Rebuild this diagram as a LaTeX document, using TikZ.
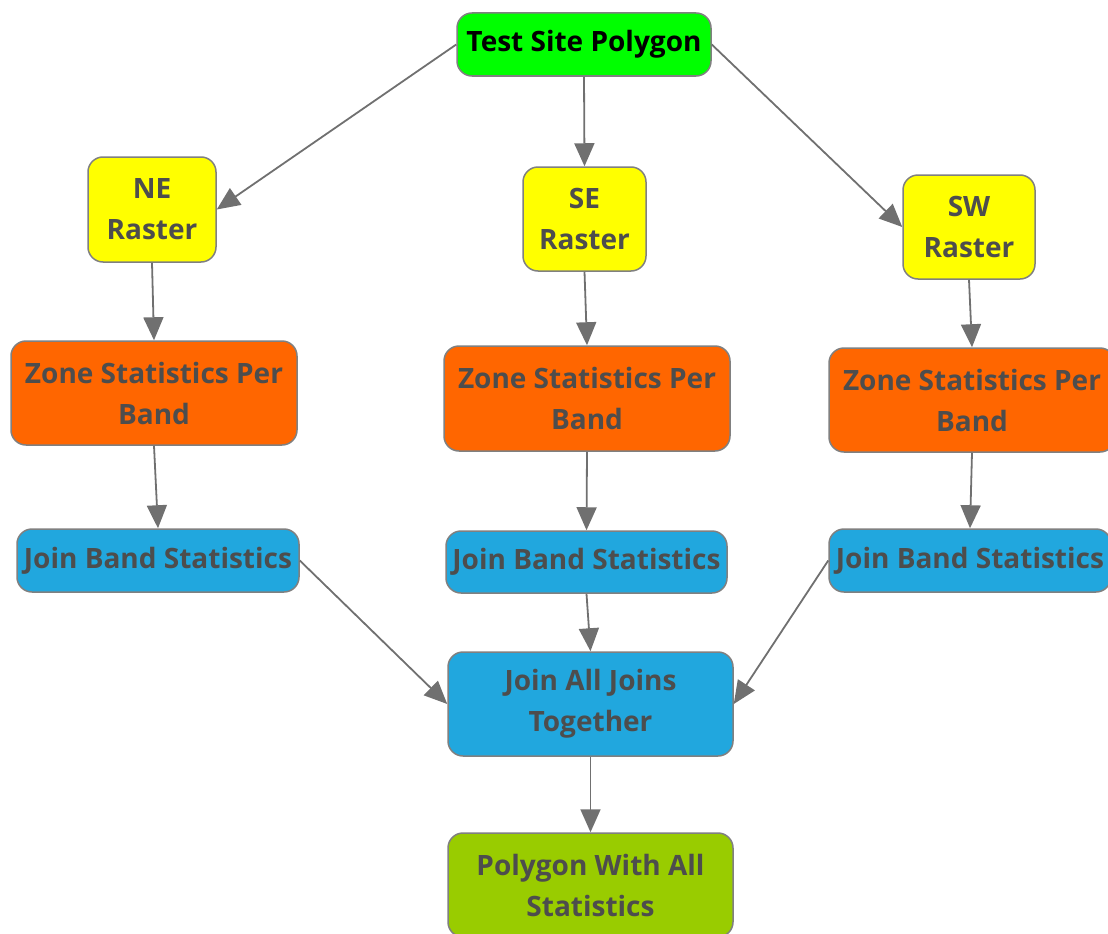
\documentclass[tikz,border=0pt]{standalone}
\usepackage{fontspec}
\setmainfont{Open Sans}
\usetikzlibrary{arrows.meta}
\definecolor{boxline}{HTML}{808080}
\definecolor{arrcol}{HTML}{707070}
\definecolor{txt}{HTML}{4D4D4D}
\definecolor{cgreen}{HTML}{00FF00}
\definecolor{cyellow}{HTML}{FFFF00}
\definecolor{corange}{HTML}{FF6600}
\definecolor{cblue}{HTML}{21A7DE}
\definecolor{clime}{HTML}{99CC00}
\begin{document}
\begin{tikzpicture}[x=1pt,y=-1pt,
  box/.style={draw=boxline, line width=1.5pt, rounded corners=15pt, align=center,
    font=\fontsize{28}{41}\selectfont\bfseries, text=txt, inner sep=0pt},
  arr/.style={draw=arrcol, line width=1.8pt, -{Triangle[length=23pt,width=20pt]}}]
\useasboundingbox (0,0) rectangle (1108,934);
\clip (0,0) rectangle (1108,934);
% nodes
\node[box, fill=cgreen, text=black, minimum width=254pt, minimum height=63pt] (top) at (584,44.5) {Test Site Polygon};
\node[box, fill=cyellow, minimum width=128pt, minimum height=105pt] (ne) at (152,209.5) {NE\\Raster};
\node[box, fill=cyellow, minimum width=123pt, minimum height=104pt] (se) at (584.5,219) {SE\\Raster};
\node[box, fill=cyellow, minimum width=132pt, minimum height=104pt] (sw) at (969,227) {SW\\Raster};
\node[box, fill=corange, minimum width=286pt, minimum height=104pt] (zne) at (154,393) {Zone Statistics Per\\Band};
\node[box, fill=corange, minimum width=286pt, minimum height=105pt] (zse) at (587,398.5) {Zone Statistics Per\\Band};
\node[box, fill=corange, minimum width=286pt, minimum height=104pt] (zsw) at (972,400) {Zone Statistics Per\\Band};
\node[box, fill=cblue, minimum width=282pt, minimum height=63pt] (jne) at (158,560.5) {Join Band Statistics};
\node[box, fill=cblue, minimum width=281pt, minimum height=62pt] (jse) at (586.5,562) {Join Band Statistics};
\node[box, fill=cblue, minimum width=282pt, minimum height=63pt] (jsw) at (970,560.5) {Join Band Statistics};
\node[box, fill=cblue, minimum width=285pt, minimum height=104pt] (all) at (590.5,704) {Join All Joins\\Together};
\node[box, fill=clime, minimum width=285pt, minimum height=104pt] (poly) at (590.5,885) {Polygon With All\\Statistics};
% connectors
\draw[arr] (top.west) -- (ne.east);
\draw[arr] (top.south) -- (se.north);
\draw[arr] (top.east) -- (sw.west);
\draw[arr] (ne.south) -- (zne.north);
\draw[arr] (se.south) -- (zse.north);
\draw[arr] (sw.south) -- (zsw.north);
\draw[arr] (zne.south) -- (jne.north);
\draw[arr] (zse.south) -- (jse.north);
\draw[arr] (zsw.south) -- (jsw.north);
\draw[arr] (jne.east) -- (all.west);
\draw[arr] (jse.south) -- (all.north);
\draw[arr] (jsw.west) -- (all.east);
\draw[arr] (all.south) -- (poly.north);
\end{tikzpicture}
\end{document}
